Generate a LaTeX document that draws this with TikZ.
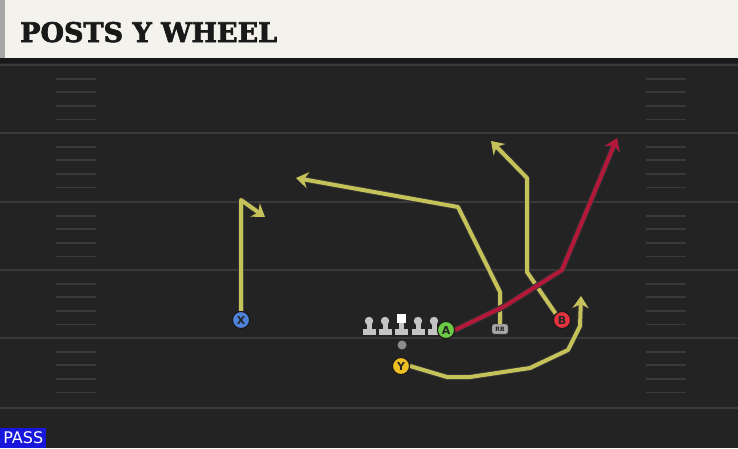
\documentclass[tikz,border=0pt]{standalone}
\usepackage{fontspec}
\setmainfont{DejaVu Sans}
\newfontfamily\titlefont[BoldFeatures={FakeBold=2.5}]{DejaVu Serif}
\usetikzlibrary{arrows.meta, positioning}
\definecolor{field}{HTML}{232323}
\definecolor{yardline}{HTML}{3A3A3A}
\definecolor{banner}{HTML}{F4F2EC}
\definecolor{routeyellow}{HTML}{C6C25A}
\definecolor{routered}{HTML}{B3183A}
\definecolor{xblue}{HTML}{4F82DA}
\definecolor{agreen}{HTML}{6BCB46}
\definecolor{bred}{HTML}{E2333F}
\definecolor{yyellow}{HTML}{EEBF22}
\definecolor{passblue}{HTML}{1818DC}
\definecolor{linegrey}{HTML}{C4C4C4}

\tikzset{
  player/.style={circle, draw=black!90, line width=1pt, minimum size=17pt, inner sep=0pt,
    font=\bfseries\fontsize{11}{11}\selectfont, text=black!85},
  route/.style={line width=4pt, draw=routeyellow, line join=round,
    -{Stealth[length=12pt,width=16pt,inset=4pt]},
    preaction={draw=black!80, line width=6pt, line join=round, -{Stealth[length=13pt,width=18pt,inset=4pt]}}},
  redroute/.style={route, draw=routered},
  hash/.style={draw=yardline, line width=1.8pt}
}

\begin{document}
\begin{tikzpicture}[x=1pt, y=-1pt]
        % field and frame
        \fill[field] (0,0) rectangle (738,448);
        \useasboundingbox (0,0) rectangle (738,448);

        % yard lines
        \foreach \yy in {65,133,202,270,338,408}
            \draw[yardline, line width=2pt] (0,\yy) -- (738,\yy);

        % hash marks on both sides
        \foreach \yy in {65,133,202,270,338}
            \foreach \k in {1,2,3,4} {
                \draw[hash] (56,\yy+13.6*\k) -- (96,\yy+13.6*\k);
                \draw[hash] (646,\yy+13.6*\k) -- (686,\yy+13.6*\k);
            }

        % title banner
        \fill[black!90] (0,0) rectangle (738,63);
        \fill[banner] (5,0) rectangle (738,58);
        \fill[black!35] (0,0) rectangle (5,58);
        \node[anchor=base west, inner sep=0pt, text=black!90] (title) at (20,42)
            {\titlefont\bfseries\fontsize{27}{27}\selectfont POSTS Y WHEEL};

        % pass tag
        \node[fill=passblue, text=white, anchor=south west, inner xsep=2pt, inner ysep=1pt,
              minimum width=46pt, minimum height=20pt, font=\fontsize{16}{16}\selectfont] (pass) at (0,448) {PASS};

        % offensive line
        \foreach \lx in {369,385,418,434} {
            \fill[linegrey] (\lx-6.5,329) rectangle (\lx+6.5,335);
            \fill[linegrey] (\lx-2.5,322) rectangle (\lx+2.5,330);
            \fill[linegrey] (\lx,321) circle (4.2);
        }
        \fill[linegrey] (394.5,329) rectangle (407.5,335);
        \fill[linegrey] (398.5,321) rectangle (403.5,330);
        \fill[white] (396.5,314) rectangle (405.5,323);
        \node[circle, fill=black!45, minimum size=9pt, inner sep=0pt] (ball) at (402,345) {};

        % skill players
        \node[player, fill=xblue] (X) at (241,320) {X};
        \node[player, fill=agreen] (A) at (446,330) {A};
        \node[player, fill=bred] (B) at (562,320) {B};
        \node[player, fill=yyellow] (Y) at (401,366) {Y};
        \node[rounded corners=2pt, fill=black!35, draw=black!80, minimum width=16pt, minimum height=10pt,
              inner sep=0pt, font=\bfseries\fontsize{6}{6}\selectfont, text=black!85] (RB) at (500,329) {RB};

        % route ends
        \coordinate (xEnd) at (265,217);
        \coordinate (rbEnd) at (296,178);
        \coordinate (bEnd) at (491,141);
        \coordinate (aEnd) at (617,138);
        \coordinate (yEnd) at (581,296);

        % routes
        \draw[route] (X.north) -- (241,200) -- (xEnd);
        \draw[route] (RB.north) -- (500,292) -- (458,207) -- (rbEnd);
        \draw[route] (B.north west) -- (527,272) -- (527,178) -- (bEnd);
        \draw[redroute] (A.east) -- (505,306) -- (562,270) -- (aEnd);
        \draw[route] (Y.east) -- (447,377) -- (470,377) -- (530,368) -- (568,350) -- (580,326) -- (yEnd);

        % redraw players over routes
        \node[player, fill=xblue] at (X) {X};
        \node[player, fill=agreen] at (A) {A};
        \node[player, fill=bred] at (B) {B};
        \node[player, fill=yyellow] at (Y) {Y};
\end{tikzpicture}
\end{document}
